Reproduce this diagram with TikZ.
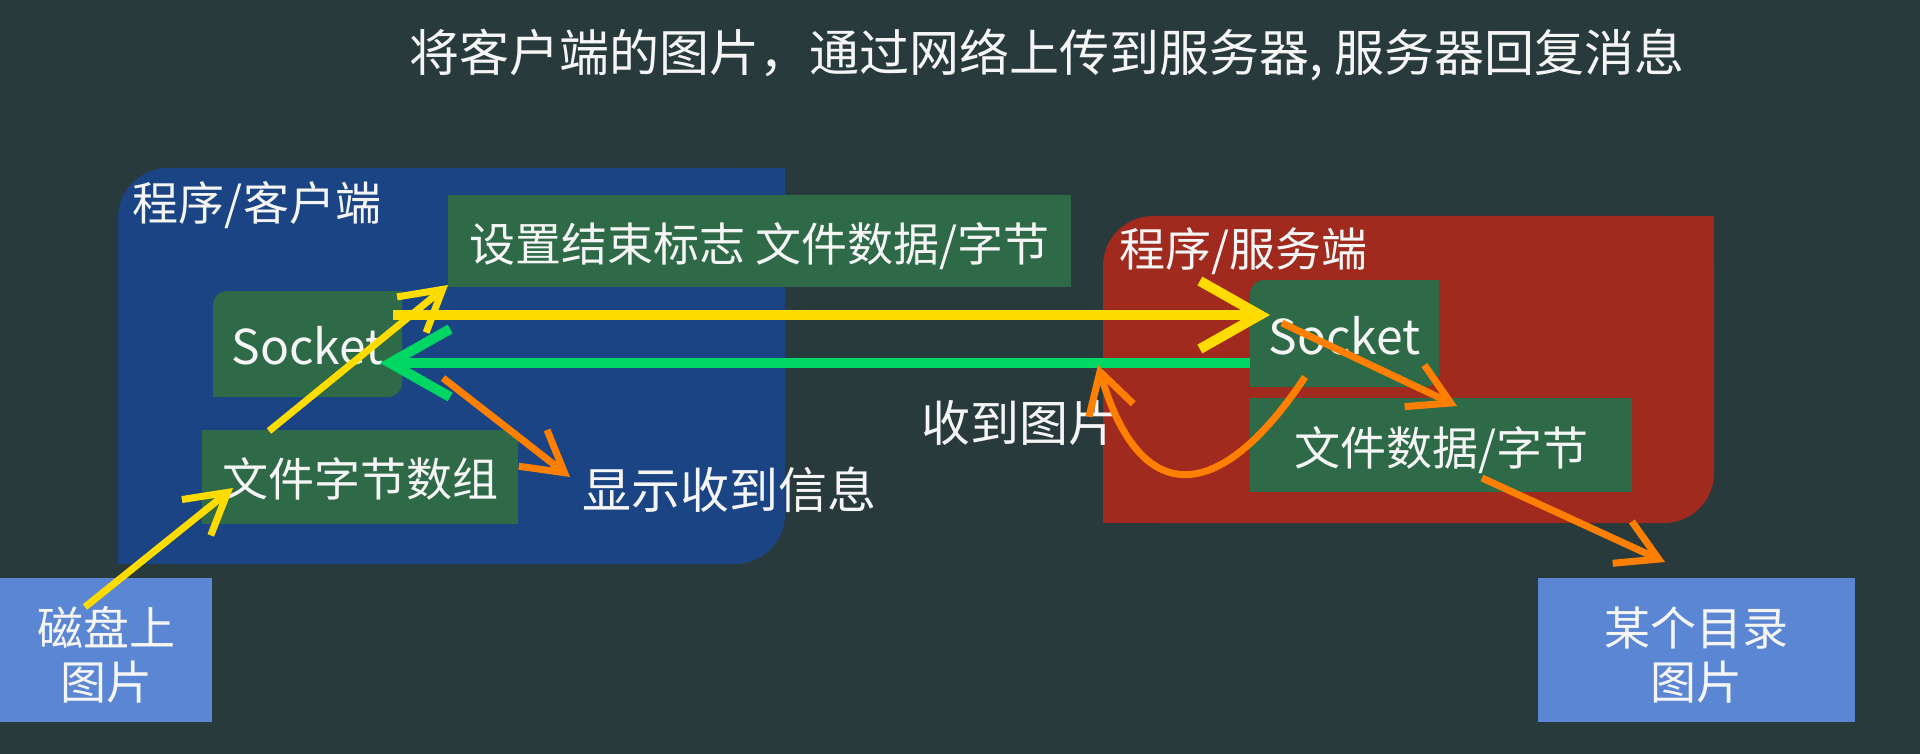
\documentclass[tikz,border=0pt]{standalone}
\usepackage{fontspec}
\setmainfont{Noto Sans CJK SC}
\usetikzlibrary{arrows.meta}
\definecolor{bgc}{RGB}{41,58,61}
\definecolor{clientblue}{RGB}{26,68,131}
\definecolor{serverred}{RGB}{160,42,30}
\definecolor{boxgreen}{RGB}{46,106,72}
\definecolor{lightblue}{RGB}{90,134,211}
\definecolor{arrowyellow}{RGB}{255,220,0}
\definecolor{arrowgreen}{RGB}{0,214,100}
\definecolor{arroworange}{RGB}{255,128,0}
\definecolor{txt}{RGB}{245,245,245}
\tikzset{
  lbl/.style={text=txt, inner sep=0pt, font=\fontsize{23}{26}\selectfont},
  boxtxt/.style={text=txt, inner sep=0pt, align=center, yshift=-2.5pt, font=\fontsize{23}{27}\selectfont},
  biglbl/.style={text=txt, inner sep=0pt, font=\fontsize{24.5}{28}\selectfont},
  gbox/.style={fill=boxgreen, inner sep=0pt},
  lbbox/.style={fill=lightblue, inner sep=0pt},
  bigtip/.style={-{Straight Barb[length=30pt,width=34pt]}},
  smalltip/.style={-{Straight Barb[length=20pt,width=23pt]}},
  ythick/.style={draw=arrowyellow, line width=5pt, bigtip},
  gthick/.style={draw=arrowgreen, line width=5pt, bigtip},
  ythin/.style={draw=arrowyellow, line width=3.5pt, smalltip},
  othin/.style={draw=arroworange, line width=3.5pt, smalltip},
}
\begin{document}
\begin{tikzpicture}[x=0.5pt,y=-0.5pt]
\useasboundingbox[fill=bgc] (0,0) rectangle (1920,754);

% title
\node[text=txt, inner sep=0pt, font=\fontsize{25}{28}\selectfont] (title) at (1047,55) {将客户端的图片，通过网络上传到服务器, 服务器回复消息};

% client area
\node[fill=clientblue, rounded corners=25pt, minimum width=333.5pt, minimum height=198pt, inner sep=0pt] (client) at (451.5,366) {};
\fill[clientblue] (client.north east) rectangle ++(-60,60);
\fill[clientblue] (client.south west) rectangle ++(60,-60);
\node[lbl] (clientlbl) at (257,205) {程序/客户端};

% server area
\node[fill=serverred, rounded corners=25pt, minimum width=305.5pt, minimum height=153.5pt, inner sep=0pt] (server) at (1408.5,369.5) {};
\fill[serverred] (server.north east) rectangle ++(-60,60);
\fill[serverred] (server.south west) rectangle ++(60,-60);
\node[lbl] (serverlbl) at (1243,251) {程序/服务端};

% client socket
\node[gbox, rounded corners=7pt, minimum width=94.5pt, minimum height=53pt] (csock) at (307.5,344) {};
\fill[boxgreen] (csock.north east) rectangle ++(-20,20);
\fill[boxgreen] (csock.south west) rectangle ++(20,-20);
\node[boxtxt, yshift=1.5pt, font=\fontsize{24}{26}\selectfont] (csocktxt) at (csock.center) {Socket};

% server socket
\node[gbox, rounded corners=7pt, minimum width=94.5pt, minimum height=53.5pt] (ssock) at (1344.5,333.5) {};
\fill[boxgreen] (ssock.north east) rectangle ++(-20,20);
\fill[boxgreen] (ssock.south west) rectangle ++(20,-20);
\node[boxtxt, yshift=1.5pt, font=\fontsize{24}{26}\selectfont] (ssocktxt) at (ssock.center) {Socket};

% boxes
\node[gbox, minimum width=311.5pt, minimum height=46pt] (flag) at (759.5,241) {};
\node[boxtxt] (flagtxt) at (flag.center) {设置结束标志 文件数据/字节};
\node[gbox, minimum width=158pt, minimum height=47pt] (bytes) at (360,477) {};
\node[boxtxt, yshift=1.5pt] (bytestxt) at (bytes.center) {文件字节数组};
\node[gbox, minimum width=191pt, minimum height=47pt] (sdata) at (1441,445) {};
\node[boxtxt] (sdatatxt) at (sdata.center) {文件数据/字节};
\node[lbbox, minimum width=106pt, minimum height=72pt] (disk) at (106,650) {};
\node[boxtxt] (disktxt) at (disk.center) {磁盘上\\图片};
\node[lbbox, minimum width=158.5pt, minimum height=72pt] (dir) at (1696.5,650) {};
\node[boxtxt] (dirtxt) at (dir.center) {某个目录\\图片};

% free labels
\node[biglbl] (show) at (729,490) {显示收到信息};
\node[biglbl] (recv) at (1019,423) {收到图片};

% connector end points
\coordinate (a1s) at (85,607);
\coordinate (a1e) at (233,488);
\coordinate (a2s) at (269,431);
\coordinate (a2e) at (448,285);
\coordinate (a3s) at (393,315);
\coordinate (a3e) at (1270,315);
\coordinate (a4s) at (1250,363);
\coordinate (a4e) at (380,363);
\coordinate (a5s) at (443,378);
\coordinate (a5e) at (570,477);
\coordinate (a6s) at (1282,323);
\coordinate (a6e) at (1457,406);
\coordinate (a7s) at (1305,377);
\coordinate (a7e) at (1098,365);
\coordinate (a8s) at (1482,478);
\coordinate (a8e) at (1665,562);

% arrows
\draw[ythin] (a1s) -- (a1e);
\draw[ythin] (a2s) -- (a2e);
\draw[ythick] (a3s) -- (a3e);
\draw[gthick] (a4s) -- (a4e);
\draw[othin] (a5s) -- (a5e);
\draw[othin] (a6s) -- (a6e);
\draw[othin] (a7s) .. controls (1220,505) and (1140,510) .. (a7e);
\draw[othin] (a8s) -- (a8e);
\end{tikzpicture}
\end{document}
